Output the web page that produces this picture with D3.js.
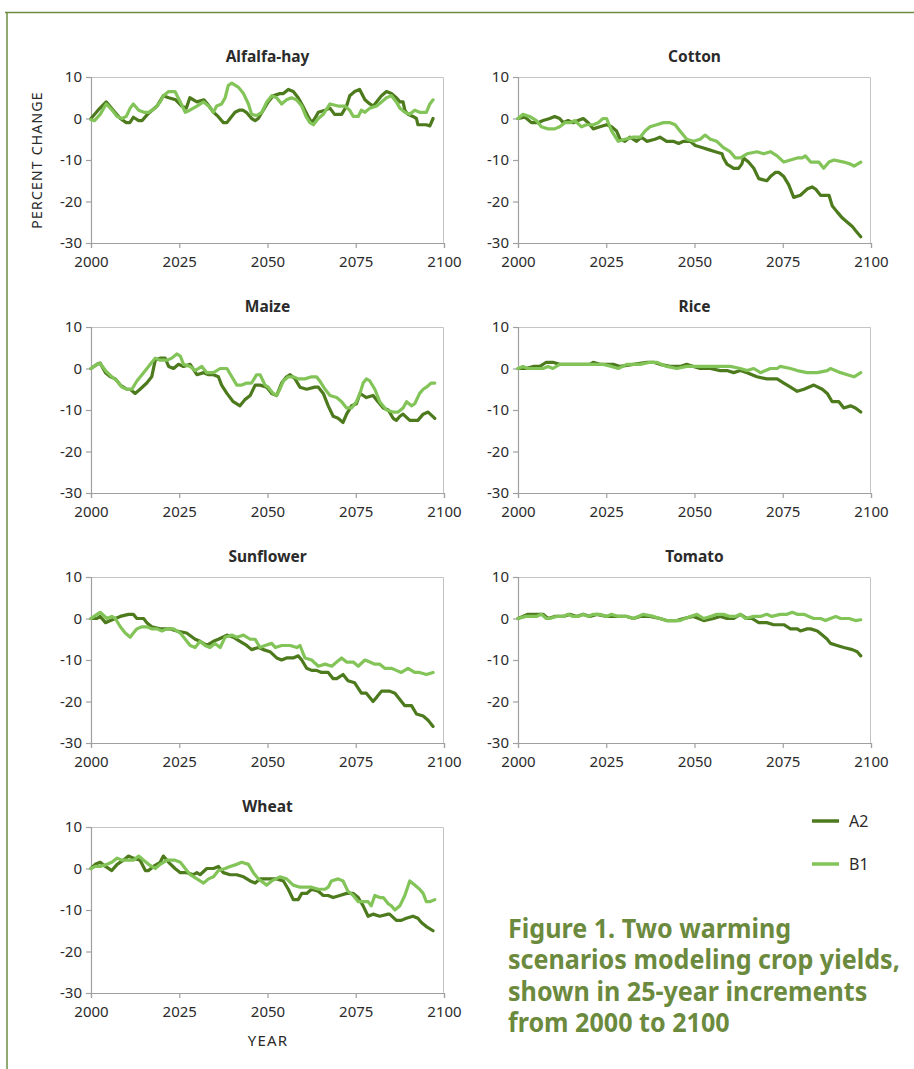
<!DOCTYPE html>
<html>
<head>
<meta charset="utf-8">
<script src="https://cdn.jsdelivr.net/npm/d3@7"></script>
<style>
  html, body { margin: 0; padding: 0; background: #fff; }
  svg { display: block; }
</style>
</head>
<body>
<svg id="chart" width="914" height="1069"></svg>
<script>
// Percent change in crop yield, 2000–2100, under two warming scenarios.
// Each series is a list of [year, percent change] pairs.

const crops = ["Alfalfa-hay", "Cotton", "Maize", "Rice", "Sunflower", "Tomato", "Wheat"];
const scenarios = ["A2", "B1"];
const yearTicks = [2000, 2025, 2050, 2075, 2100];
const percentTicks = [10, 0, -10, -20, -30];

const alfalfaA2 = [[2000,0],[2002,2],[2004.3,4],[2006.3,2],[2008.3,0],[2010,-1],[2011,-1],[2012,0.3],[2013.5,-0.5],[2014.5,-0.5],[2016,1],[2018.7,3],[2020.5,5.5],[2022,5],[2024,4.5],[2025.7,3],[2027,2.5],[2028,5],[2030,4],[2032,4.5],[2033,3.5],[2034.7,1.5],[2036,0.5],[2037.5,-1],[2038.5,-1],[2039.4,0],[2040.8,1.5],[2042,2],[2043,2],[2044,1.5],[2045.5,0],[2046.5,-0.5],[2047.4,0],[2048.8,2],[2050.2,4],[2051.6,5.5],[2053.5,6],[2054.5,6],[2055.9,7],[2057.3,6.5],[2058.7,5],[2060,3],[2061.5,0.5],[2062.5,-1],[2063.4,0],[2064.4,1.5],[2066.3,2],[2067.7,2.5],[2069,1],[2071,1],[2072.4,3],[2073.3,5.5],[2074.7,6.5],[2076.1,7],[2077.6,4.5],[2079,3.5],[2080,3],[2080.9,4],[2082.3,5.5],[2083.7,6.5],[2085.1,6],[2086.5,5],[2087.5,4],[2088.4,4],[2088.9,2],[2089.8,1],[2091.2,0.5],[2092.2,0],[2092.6,-1.5],[2095,-1.5],[2096,-1.8],[2096.9,0]];
const alfalfaB1 = [[2000,-0.3],[2001,-0.5],[2002.6,1],[2004.3,3.5],[2006,2],[2007.4,0.5],[2008.8,0],[2010,0.5],[2011.1,2.5],[2012,3.5],[2013.5,2],[2015,1.5],[2016.3,1.5],[2018.2,2.5],[2019.6,4],[2020.5,5.5],[2022,6.5],[2023.8,6.5],[2025.3,4],[2026.7,1.5],[2028,2],[2030,3],[2031.9,4],[2033.3,3],[2034.7,1.5],[2035.6,3],[2037,3.5],[2038,5],[2038.9,8],[2039.9,8.5],[2041.8,7.5],[2043.2,6],[2044.6,3.5],[2045.5,1],[2046.9,0.7],[2048.4,1.5],[2049.8,4],[2051.2,5.5],[2052.6,5],[2054,3.5],[2055.4,4.5],[2056.8,5],[2058.2,4.5],[2059.7,3],[2060.9,0.5],[2062,-1],[2063,-1.5],[2064.4,0],[2065.8,1],[2067.7,3.5],[2070,3],[2071.9,3],[2073.3,2],[2074.3,0.5],[2075.7,0.5],[2076.6,2],[2077.6,1.5],[2079,2.5],[2080.9,3],[2082.3,4],[2083.7,5],[2085.1,5.5],[2086.5,4],[2087.5,2.5],[2088.9,1.5],[2090.3,1],[2091.7,2],[2093.1,1.5],[2095,1.5],[2096,3.5],[2096.9,4.5]];

const cottonA2 = [[2000,0],[2002,0.3],[2003.8,-1],[2005.7,-1],[2007.1,-0.5],[2009,0],[2010.4,0.5],[2011.8,0],[2012.8,-1],[2014.2,-0.5],[2015.6,-1],[2017,-0.5],[2018.5,0],[2019.9,-1],[2021.3,-2.5],[2023.2,-2],[2025.1,-1.5],[2026.5,-2],[2027.9,-3],[2028.9,-5],[2030.3,-5.5],[2031.7,-4.5],[2033.6,-5.5],[2035,-4.5],[2036.5,-5.5],[2038.8,-5],[2040.2,-4.5],[2042.1,-5.5],[2044,-5.5],[2045.5,-6],[2046.9,-5.5],[2048.8,-5.5],[2050.2,-6.5],[2052.1,-7],[2054,-7.5],[2055.9,-8],[2057.8,-8.5],[2058.2,-9.5],[2059.2,-11],[2061.1,-12],[2062.5,-12],[2063.4,-11],[2063.9,-9.5],[2065.3,-10.5],[2066.8,-12],[2068.2,-14.5],[2070.5,-15],[2071.5,-14],[2072.9,-13],[2073.9,-13],[2075.3,-14],[2076.7,-16],[2078.1,-19],[2080,-18.5],[2081.9,-17],[2083.3,-16.5],[2084.3,-17],[2085.7,-18.5],[2088.1,-18.5],[2089,-21],[2090.4,-22.5],[2091.9,-24],[2093.3,-25],[2094.7,-26],[2095.6,-27],[2097.1,-28.5]];
const cottonB1 = [[2000,0],[2001.4,1],[2003.3,0.5],[2005.2,-0.5],[2006.6,-2],[2008.5,-2.5],[2010.4,-2.5],[2011.8,-2],[2013.3,-1],[2014.7,-1],[2016.1,-0.5],[2018,-2],[2019.4,-1.5],[2021.3,-1.5],[2022.7,-1],[2024.1,0],[2025.1,0],[2026.5,-3],[2028.4,-5.5],[2030.3,-5],[2032.7,-4.5],[2034.6,-4.5],[2036,-3],[2037.4,-2],[2039.3,-1.5],[2041.2,-1],[2043.1,-1],[2044.5,-1.5],[2045.9,-3],[2047.8,-5],[2049.7,-5.5],[2051.6,-5],[2053,-4],[2054.5,-5],[2056.3,-5.5],[2058.2,-7],[2060.1,-8],[2061.6,-9.5],[2063,-9.5],[2064.9,-8.5],[2067.7,-8],[2069.6,-8.5],[2071.5,-8],[2073.4,-9],[2075.3,-10.5],[2077.2,-10],[2079.1,-9.5],[2080.5,-9.5],[2081.4,-9],[2082.9,-10.5],[2085.2,-10.5],[2086.6,-12],[2088.1,-10.5],[2089.5,-10],[2092.3,-10.5],[2094.2,-11],[2095.2,-11.5],[2097.1,-10.5]];

const maizeA2 = [[2000,0],[2001.7,1],[2002.6,1.3],[2004.1,-1],[2005.5,-2],[2006.9,-2.5],[2008.3,-4],[2010.2,-5],[2011.1,-5],[2012.5,-6],[2013.9,-5],[2015.8,-3.5],[2017.2,-2],[2018.2,2],[2019.6,2.5],[2021,2.5],[2022,0.5],[2023.4,0],[2024.8,1],[2026.2,0.5],[2028.1,1],[2030,-1.5],[2031.9,-1],[2033.3,-1.5],[2034.7,-1.5],[2036.1,-2],[2037,-4],[2038.5,-6],[2040.3,-8],[2042.2,-9],[2043.6,-7.5],[2045.1,-6.5],[2046.5,-4],[2047.9,-4],[2049.8,-4.5],[2051.2,-6],[2052.6,-6.5],[2054,-3.5],[2055.4,-2],[2056.4,-1.5],[2057.8,-2.5],[2059.2,-4.5],[2061.1,-5],[2063.4,-4.5],[2064.4,-4.5],[2065.8,-6],[2067.2,-9],[2068.6,-11.5],[2070,-12],[2071.4,-13],[2072.4,-11],[2073.8,-9],[2075.2,-8.5],[2076.2,-6],[2077.1,-6.5],[2078,-7],[2079.9,-6.5],[2081.3,-8],[2082.8,-9.5],[2084.2,-10],[2085.6,-12],[2086.5,-12.5],[2087.5,-11.5],[2088.4,-11],[2090.3,-12.5],[2092.6,-12.5],[2094.1,-11],[2095.5,-10.5],[2097.4,-12]];
const maizeB1 = [[2000,0],[2001.7,1],[2002.6,1.2],[2004.1,-0.5],[2005.9,-2],[2007.4,-3],[2008.8,-4.5],[2010.2,-5],[2011.6,-5],[2013,-3],[2014.9,-1],[2016.8,1],[2018.2,2.5],[2019.6,2],[2021.5,2],[2022.9,2.5],[2024.3,3.5],[2025.3,3],[2026.2,1],[2028.1,0.5],[2029.5,-0.5],[2031.4,0.5],[2032.8,-1],[2034.7,-1],[2036.6,0],[2038.5,0],[2039.9,-2],[2041.3,-4],[2042.7,-4],[2044.1,-3.5],[2045.5,-3.5],[2046.9,-1.5],[2047.9,-1.5],[2049.3,-4],[2050.2,-4.5],[2051.6,-6],[2052.6,-6.5],[2053.5,-5],[2054.5,-3],[2055.9,-2],[2057.3,-2],[2058.7,-2.5],[2060.6,-2.5],[2062.5,-2],[2063.9,-2],[2064.8,-3],[2066.3,-5],[2067.7,-6.5],[2069.6,-7],[2071,-8],[2072.4,-9.5],[2073.8,-9.5],[2075.2,-8],[2076.2,-6],[2077.1,-3.5],[2078,-2.5],[2079,-3],[2080.4,-5],[2081.8,-8],[2083.7,-10],[2085.6,-10.5],[2087,-10.5],[2088.4,-9.5],[2089.4,-8],[2090.8,-9],[2091.7,-8.5],[2093.1,-6],[2094.1,-5],[2095,-4.5],[2096.4,-3.5],[2097.4,-3.5]];

const riceA2 = [[2000,0],[2002.3,0],[2004.3,0.5],[2006.2,0.5],[2008,1.5],[2009.9,1.5],[2011.8,1],[2014.7,1],[2017.5,1],[2020.4,1],[2021.3,1.5],[2023.2,1],[2027,1],[2028.9,0.5],[2032.7,1],[2036.5,1.5],[2038.4,1.5],[2040.2,1],[2043.1,0.5],[2045.9,0.5],[2047.8,1],[2049.7,0.5],[2051.6,0],[2054.5,0],[2057.3,-0.5],[2059.2,-0.5],[2061.1,-1],[2063,-0.5],[2064.9,-1],[2067.7,-2],[2070.5,-2.5],[2073.4,-2.5],[2075.3,-3.5],[2077.2,-4.5],[2079.1,-5.5],[2081,-5],[2083.8,-4],[2086.2,-5],[2087.6,-6],[2089,-8],[2090.9,-8],[2092.3,-9.5],[2094.2,-9],[2095.6,-9.5],[2097.1,-10.5]];
const riceB1 = [[2000,0],[2001.4,0.5],[2002.8,0],[2007.1,0],[2008.5,0.5],[2009.9,0],[2011.8,1],[2014.7,1],[2017.5,1],[2021.3,1],[2024.1,1],[2026.5,0.5],[2028.4,0],[2030.8,1],[2034.6,1],[2037.4,1.5],[2039.3,1.5],[2042.1,0.5],[2045,0],[2047.8,0.5],[2050.7,0.5],[2053.5,0.5],[2057.3,0.5],[2060.1,0.5],[2063,0],[2064.9,-0.5],[2066.8,0],[2068.7,-1],[2071.5,0],[2073.4,0],[2074.3,0.5],[2077.2,0],[2079.1,-0.5],[2081.9,-1],[2084.8,-1],[2087.6,-0.5],[2088.5,0],[2091.4,-1],[2093.3,-1.5],[2095.2,-2],[2097.1,-1]];

const sunflowerA2 = [[2000,0],[2001.7,0],[2002.6,0.5],[2004.1,-1],[2005.5,-0.5],[2006.9,0],[2008.3,0.5],[2010.6,1],[2012,1],[2013,0],[2014.9,0],[2015.8,-1],[2017.2,-2],[2019.6,-2.5],[2022.4,-2.5],[2024.3,-3],[2027.1,-3.5],[2029.5,-5],[2030.9,-5.5],[2032.8,-6.5],[2034.7,-5.5],[2036.1,-5],[2038.5,-4],[2040.3,-4.5],[2042.2,-5.5],[2044.1,-6.5],[2045.5,-7.5],[2047.4,-7],[2048.8,-7.5],[2050.7,-8],[2052.6,-9.5],[2054,-10],[2055.4,-9.5],[2057.3,-9.5],[2058.7,-9],[2059.7,-10],[2061.1,-12],[2062.5,-12.5],[2063.9,-12.5],[2065.3,-13],[2067.2,-13],[2068.6,-14.5],[2069.6,-14.5],[2071.4,-13.5],[2072.8,-15],[2074.7,-15.5],[2076.6,-18],[2078,-18],[2079.9,-20],[2080.9,-19],[2082.3,-17.5],[2084.6,-17.5],[2086.1,-18],[2087.5,-19.5],[2088.9,-21],[2090.8,-21],[2092.2,-23],[2094.1,-23.5],[2095.5,-24.5],[2096.9,-26]];
const sunflowerB1 = [[2000,0],[2001.7,1],[2002.6,1.5],[2004.5,0],[2005.9,0.5],[2006.9,0],[2008.3,-2],[2009.7,-3.5],[2011.1,-4.5],[2012,-3.5],[2013,-2.5],[2014.4,-2],[2015.8,-2],[2017.2,-2.5],[2018.7,-2.5],[2020.1,-3],[2021.5,-2.5],[2023.4,-2.5],[2025.3,-3.5],[2026.7,-5],[2028.1,-6.5],[2029.5,-7],[2030.9,-5.5],[2032.3,-6.5],[2033.7,-7],[2035.1,-6],[2036.6,-7],[2038,-4.5],[2039.9,-4],[2041.3,-4.5],[2043.2,-4],[2045.1,-5],[2046.5,-5],[2047.9,-7],[2049.3,-6.5],[2051.2,-6],[2052.2,-7],[2054,-6.5],[2056.4,-6.5],[2058.3,-7],[2059.2,-6.5],[2060.6,-9.5],[2062.5,-10],[2064.4,-11.5],[2066.3,-11],[2068.2,-11.5],[2069.6,-10.5],[2071,-9.5],[2072.4,-10.5],[2074.3,-10.5],[2075.7,-11.5],[2077.6,-10],[2079,-10.5],[2080.4,-11],[2081.8,-11],[2083.2,-12],[2085.1,-12],[2086.5,-12.5],[2087.9,-13],[2089.8,-12],[2091.7,-13],[2093.1,-13],[2095,-13.5],[2096.9,-13]];

const tomatoA2 = [[2000,0],[2001.4,0.5],[2002.8,1],[2007.1,1],[2008.5,0],[2010.4,0.5],[2012.8,0.5],[2014.7,1],[2016.6,0.5],[2018.5,1],[2020.4,0.5],[2022.3,1],[2025.1,0.5],[2028.9,0.5],[2030.8,0.5],[2032.7,0],[2034.6,0.5],[2037.4,0.5],[2040.2,0],[2042.1,-0.5],[2045,-0.5],[2046.9,0],[2049.7,0.5],[2052.6,-0.5],[2055.4,0],[2057.3,0.5],[2059.2,0],[2061.1,0],[2063,1],[2064.9,0],[2066.3,0],[2068.2,-1],[2070.5,-1],[2072.4,-1.5],[2075.3,-1.5],[2077.2,-2.5],[2079.1,-2.5],[2080,-3],[2081.9,-2.5],[2082.9,-2.5],[2084.8,-3],[2086.2,-4],[2087.6,-5],[2088.5,-6],[2090.4,-6.5],[2092.3,-7],[2094.7,-7.5],[2096.1,-8],[2097.1,-9]];
const tomatoB1 = [[2000,0],[2002.3,0.5],[2005.2,0.5],[2006.6,1],[2008,0],[2009,0],[2010.9,0.5],[2012.8,0.5],[2014.2,1],[2015.6,0.5],[2017,0.5],[2018.5,1],[2019.9,0.5],[2021.3,1],[2023.2,1],[2025.1,0.5],[2026.5,1],[2028.4,0.5],[2030.8,0.5],[2032.7,0],[2034.1,0.5],[2035.5,1],[2038.4,0.5],[2040.2,0],[2042.1,-0.5],[2044.5,-0.5],[2045.9,-0.5],[2048.8,0.5],[2050.7,1],[2052.6,0],[2054.5,0.5],[2056.3,1],[2058.2,1],[2060.1,0.5],[2061.6,0.5],[2063,1],[2064.4,0],[2066.8,0.5],[2068.7,0.5],[2070.5,1],[2071.9,0.5],[2074.3,1],[2076.2,1],[2077.7,1.5],[2079.1,1],[2081,1],[2082.4,0.5],[2083.8,0],[2085.7,0],[2087.1,-0.5],[2088.5,0],[2090,0.5],[2091.4,0],[2093.8,0],[2095.6,-0.5],[2097.1,-0.3]];

const wheatA2 = [[2000,0],[2001.2,1],[2002.6,1.5],[2004.1,0.5],[2005.9,-0.5],[2007.4,1],[2009.2,2],[2010.6,3],[2012,2.5],[2013.9,2],[2015.4,-0.5],[2016.3,-0.5],[2017.7,0.5],[2019.6,1.5],[2020.5,3],[2022,1.5],[2023.8,0],[2025.3,-1],[2027.1,-1],[2029,-1.5],[2030,-1],[2030.9,-1.5],[2032.8,0],[2034.7,0],[2036.1,0.5],[2037.5,-1],[2039.4,-1.5],[2041.3,-1.5],[2043.2,-2],[2045.1,-3],[2046.5,-3.5],[2047.9,-2.5],[2049.8,-2.5],[2052.6,-2.5],[2054.5,-3],[2055.9,-5],[2057.3,-7.5],[2058.7,-7.5],[2059.7,-6],[2061.1,-6],[2062.5,-5],[2064.4,-5.5],[2065.8,-6.5],[2067.2,-6.5],[2068.6,-7],[2070.5,-6.5],[2072.4,-6],[2074.3,-6],[2075.7,-7],[2077.1,-9],[2078.5,-11.5],[2079.9,-11],[2081.8,-11.5],[2084.2,-11],[2084.6,-11],[2086.5,-12.5],[2087.9,-12.5],[2089.3,-12],[2091.2,-11.5],[2092.6,-12],[2093.6,-13],[2095,-14],[2096.9,-15]];
const wheatB1 = [[2000,0],[2001.2,0.5],[2002.6,0.5],[2004.5,1],[2005.9,1.5],[2007.4,2.5],[2008.8,2],[2010.2,2],[2012,2],[2013.5,3],[2014.9,2],[2016.3,1],[2018.2,0],[2019.6,1],[2021.5,2],[2023.8,2],[2025.3,1.5],[2026.7,0],[2028.1,-1.5],[2030,-2.5],[2031.9,-3.5],[2033.3,-2.5],[2034.7,-2],[2036.1,-0.5],[2038,0],[2039.4,0.5],[2041.3,1],[2042.7,1.5],[2044.6,1],[2046,-1],[2047.4,-2.5],[2049.8,-4],[2051.2,-3],[2053.5,-2],[2055.4,-2.5],[2057.3,-4],[2059.2,-4.5],[2061.1,-4.5],[2062.5,-4.5],[2064.4,-5],[2066.3,-5],[2067.2,-4.5],[2068.1,-3],[2070,-2.5],[2071.4,-3],[2072.8,-5.5],[2074.3,-6.5],[2075.7,-8],[2077.1,-8],[2078.5,-8],[2079.4,-9],[2080.4,-6.5],[2081.8,-7],[2082.8,-7],[2084.2,-8.5],[2085.1,-9],[2086.1,-10],[2087.5,-9],[2088.9,-6.5],[2090.3,-3],[2091.7,-4],[2093.1,-5],[2094.1,-6],[2095,-8],[2096,-8],[2097.4,-7.5]];

const seriesByCrop = {
  "Alfalfa-hay": [alfalfaA2, alfalfaB1],
  "Cotton": [cottonA2, cottonB1],
  "Maize": [maizeA2, maizeB1],
  "Rice": [riceA2, riceB1],
  "Sunflower": [sunflowerA2, sunflowerB1],
  "Tomato": [tomatoA2, tomatoB1],
  "Wheat": [wheatA2, wheatB1]
};

const captionLines = [
  "Figure 1. Two warming",
  "scenarios modeling crop yields,",
  "shown in 25-year increments",
  "from 2000 to 2100"
];

// ---- layout ----
const colors = { A2: "#4c7a1c", B1: "#83c459" };
const frameGreen = "#6e8c42";
const axisGray = "#a0a0a0";
const textDark = "#2b2b2b";
const font = "'Noto Sans', 'Open Sans', sans-serif";

const colLeft = [91, 518];
const plotW = 353;
const rowTop = [77, 327, 577, 827];
const plotH = 166;

const svg = d3.select("#chart");

// outer page frame (top and left rules)
svg.append("line").attr("x1", 5).attr("x2", 914).attr("y1", 12.5).attr("y2", 12.5)
  .attr("stroke", frameGreen).attr("stroke-width", 1.5);
svg.append("line").attr("x1", 7).attr("x2", 7).attr("y1", 12).attr("y2", 1069)
  .attr("stroke", frameGreen).attr("stroke-width", 1.5);

const x = d3.scaleLinear().domain([2000, 2100]).range([0, plotW]);
const y = d3.scaleLinear().domain([-30, 10]).range([plotH, 0]);
const line = d3.line().x(d => x(d[0])).y(d => y(d[1])).curve(d3.curveLinear);

crops.forEach((crop, i) => {
  const col = i % 2, row = Math.floor(i / 2);
  const g = svg.append("g").attr("transform", `translate(${colLeft[col]},${rowTop[row]})`);

  // top and right frame
  g.append("path")
    .attr("d", `M0,0.5H${plotW - 0.5}V${plotH}`)
    .attr("fill", "none").attr("stroke", "#c4c4c4").attr("stroke-width", 1);

  // axes
  const xAxis = g.append("g").attr("transform", `translate(0,${plotH})`)
    .call(d3.axisBottom(x).tickValues(yearTicks).tickFormat(d3.format("d")).tickSize(5).tickPadding(8));
  const yAxis = g.append("g")
    .call(d3.axisLeft(y).tickValues(percentTicks).tickFormat(d3.format("d")).tickSize(5).tickPadding(4));
  [xAxis, yAxis].forEach(a => {
    a.selectAll("path, line").attr("stroke", axisGray).attr("stroke-width", 1.2);
    a.selectAll("text").attr("fill", textDark).style("font-family", font).style("font-size", "15px");
  });
  yAxis.selectAll("text").text(d => d < 0 ? "-" + Math.abs(d) : d);

  // series
  const data = seriesByCrop[crop];
  scenarios.forEach((s, k) => {
    g.append("path").datum(data[k])
      .attr("d", line)
      .attr("fill", "none")
      .attr("stroke", colors[s])
      .attr("stroke-width", 3.2)
      .attr("stroke-linejoin", "round")
      .attr("stroke-linecap", "round");
  });

  // title
  g.append("text")
    .attr("x", plotW / 2).attr("y", -15)
    .attr("text-anchor", "middle")
    .attr("fill", textDark)
    .style("font-family", font).style("font-weight", "bold").style("font-size", "15.5px")
    .text(crop);
});

// axis titles
svg.append("text")
  .attr("transform", "translate(42,160) rotate(-90)")
  .attr("text-anchor", "middle")
  .attr("fill", textDark)
  .style("font-family", font).style("font-size", "14px").style("letter-spacing", "1.2px")
  .text("PERCENT CHANGE");

svg.append("text")
  .attr("x", 268).attr("y", 1046)
  .attr("text-anchor", "middle")
  .attr("fill", textDark)
  .style("font-family", font).style("font-size", "15px").style("letter-spacing", "1.2px")
  .text("YEAR");

// legend
const legend = svg.append("g").attr("transform", "translate(812,821)");
scenarios.forEach((s, k) => {
  const lg = legend.append("g").attr("transform", `translate(0,${k * 43})`);
  lg.append("line").attr("x1", 0).attr("x2", 27).attr("y1", 0).attr("y2", 0)
    .attr("stroke", colors[s]).attr("stroke-width", 3.5);
  lg.append("text").attr("x", 37).attr("y", 6)
    .attr("fill", textDark)
    .style("font-family", font).style("font-size", "16px")
    .text(s);
});

// caption
const cap = svg.append("g").attr("transform", "translate(508,0)");
const capText = cap.selectAll("text").data(captionLines).join("text")
  .attr("x", 0).attr("y", (d, i) => 938 + i * 31.3)
  .attr("fill", "#6b8a3e")
  .style("font-family", font).style("font-weight", "bold").style("font-size", "26px")
  .text(d => d);
// condense the caption to its column width
const widest = capText.nodes()[1].getComputedTextLength();
const sx = 392 / widest;
capText.attr("transform", (d, i) => `translate(0,${938 + i * 31.3}) scale(${sx},1) translate(0,${-(938 + i * 31.3)})`);
</script>
</body>
</html>
